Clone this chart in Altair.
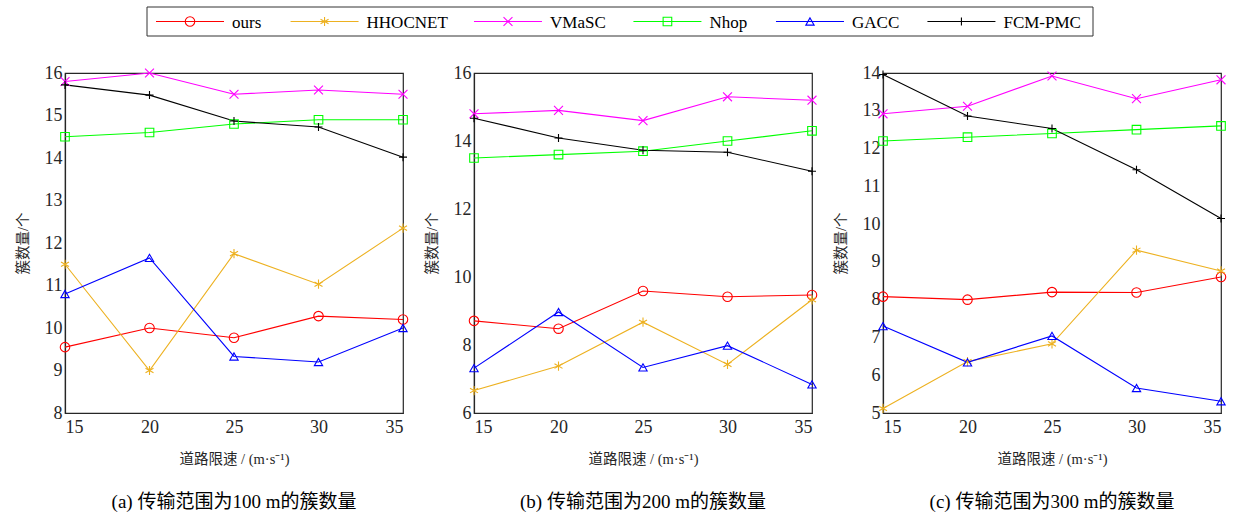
import altair as alt
import pandas as pd

speeds = [15, 20, 25, 30, 35]
methods = ["ours", "HHOCNET", "VMaSC", "Nhop", "GACC", "FCM-PMC"]
colors = ["#FF0000", "#EDB120", "#FF00FF", "#00FF00", "#0000FF", "#000000"]

# marker outlines: circle, asterisk, x, square, triangle, plus
asterisk = "M0,-1L0,1M-0.87,-0.5L0.87,0.5M-0.87,0.5L0.87,-0.5"
xmark = "M-1,-1L1,1M-1,1L1,-1"
plus = "M-1,0L1,0M0,-1L0,1"
shapes = ["circle", asterisk, xmark, "square", "triangle-up", plus]
marker_sizes = [90, 64, 49, 90, 110, 64]

# cluster counts, transmission range 100 m
r100 = {
    "ours":    [9.55, 10.0, 9.77, 10.28, 10.2],
    "HHOCNET": [11.5, 9.0, 11.75, 11.03, 12.35],
    "VMaSC":   [15.8, 16.0, 15.5, 15.6, 15.5],
    "Nhop":    [14.5, 14.6, 14.8, 14.9, 14.9],
    "GACC":    [10.8, 11.65, 9.33, 9.2, 10.0],
    "FCM-PMC": [15.72, 15.48, 14.87, 14.73, 14.02],
}
# transmission range 200 m
r200 = {
    "ours":    [8.71, 8.48, 9.59, 9.42, 9.47],
    "HHOCNET": [6.66, 7.38, 8.67, 7.43, 9.33],
    "VMaSC":   [14.8, 14.9, 14.6, 15.3, 15.2],
    "Nhop":    [13.5, 13.6, 13.7, 14.0, 14.3],
    "GACC":    [7.32, 8.97, 7.34, 7.98, 6.84],
    "FCM-PMC": [14.67, 14.09, 13.73, 13.67, 13.11],
}
# transmission range 300 m
r300 = {
    "ours":    [8.08, 8.0, 8.2, 8.19, 8.6],
    "HHOCNET": [5.12, 6.36, 6.83, 9.31, 8.76],
    "VMaSC":   [12.92, 13.12, 13.92, 13.32, 13.82],
    "Nhop":    [12.2, 12.3, 12.4, 12.5, 12.6],
    "GACC":    [7.3, 6.34, 7.04, 5.66, 5.31],
    "FCM-PMC": [13.96, 12.86, 12.53, 11.44, 10.15],
}

SERIF = "Liberation Serif, Times New Roman, Noto Sans CJK SC"
AXIS_COLOR = "#262626"

color_scale = alt.Scale(domain=methods, range=colors)
shape_scale = alt.Scale(domain=methods, range=shapes)
size_scale = alt.Scale(domain=methods, range=marker_sizes)


def to_long(table):
    rows = []
    for m in methods:
        for s, v in zip(speeds, table[m]):
            rows.append({"method": m, "speed": s, "value": v})
    return pd.DataFrame(rows)


def panel(table, y_min, y_max, y_step, caption):
    base = alt.Chart(to_long(table)).encode(
        x=alt.X(
            "speed:Q",
            scale=alt.Scale(domain=[15, 35], nice=False, zero=False),
            axis=alt.Axis(
                values=speeds, title="道路限速 / (m·s⁻¹)", grid=False,
                tickSize=0, labelPadding=5, titlePadding=16,
                labelFontSize=18, titleFontSize=14.5, titleFontWeight="normal",
                labelFont=SERIF, titleFont=SERIF,
                labelColor=AXIS_COLOR, titleColor=AXIS_COLOR,
                domainColor=AXIS_COLOR, domainWidth=1.2,
            ),
        ),
        y=alt.Y(
            "value:Q",
            scale=alt.Scale(domain=[y_min, y_max], nice=False, zero=False),
            axis=alt.Axis(
                values=list(range(y_min, y_max + 1, y_step)), title="簇数量/个",
                grid=False, tickSize=0, labelPadding=3, titlePadding=14,
                labelFontSize=18, titleFontSize=14.5, titleFontWeight="normal",
                labelFont=SERIF, titleFont=SERIF,
                labelColor=AXIS_COLOR, titleColor=AXIS_COLOR,
                domainColor=AXIS_COLOR, domainWidth=1.2,
            ),
        ),
        color=alt.Color("method:N", scale=color_scale, legend=None),
    )
    lines = base.mark_line(strokeWidth=1.1)
    points = base.mark_point(filled=False, strokeWidth=1.1, opacity=1).encode(
        shape=alt.Shape("method:N", scale=shape_scale, legend=None),
        size=alt.Size("method:N", scale=size_scale, legend=None),
    )
    return alt.layer(lines, points).properties(
        width=338,
        height=340,
        title=alt.TitleParams(
            caption, orient="bottom", fontSize=19, font=SERIF,
            fontWeight="normal", color="#000000", offset=27,
        ),
        view=alt.ViewBackground(stroke=AXIS_COLOR, strokeWidth=1.2),
    )


# legend strip across the top: a framed box holding one entry per method
# (short line with its marker, then the name), packed left to right by an
# estimate of each label's width
STRIP_W = 1100
BOX_L = 82
BOX_W = 946
STRIP_H = 29
LEG_FONT = 16
LINE_LEN = 68
LEAD = 9
TEXT_GAP = 8
ITEM_GAP = 31
char_em = {
    "o": .5, "u": .5, "r": .333, "s": .389, "H": .722, "O": .722, "C": .667,
    "N": .722, "E": .611, "T": .611, "V": .722, "M": .889, "a": .444,
    "S": .556, "h": .5, "p": .5, "G": .722, "A": .722, "F": .556, "P": .556,
    "-": .333,
}


def label_width(s):
    return sum(char_em.get(c, .55) for c in s) * LEG_FONT


starts = []
cursor = BOX_L + LEAD
for m in methods:
    starts.append(cursor)
    cursor += LINE_LEN + TEXT_GAP + label_width(m) + ITEM_GAP

legend_df = pd.DataFrame({"method": methods, "start": starts, "row": 0})
leg_x = alt.Scale(domain=[0, STRIP_W], range=[0, STRIP_W], nice=False, zero=False)
leg_y = alt.Scale(domain=[-1, 1], nice=False, zero=False)
leg_base = alt.Chart(legend_df).transform_calculate(
    x1=f"datum.start + {LINE_LEN}",
    xm=f"datum.start + {LINE_LEN / 2}",
    xt=f"datum.start + {LINE_LEN + TEXT_GAP}",
)
box = alt.Chart(pd.DataFrame({"l": [BOX_L], "r": [BOX_L + BOX_W]})).mark_rect(
    fill="#FFFFFF", stroke="#333333", strokeWidth=1
).encode(
    x=alt.X("l:Q", scale=leg_x, axis=None),
    x2="r:Q",
    y=alt.value(0),
    y2=alt.value(STRIP_H),
)
leg_lines = leg_base.mark_rule(strokeWidth=1.2).encode(
    x=alt.X("start:Q", scale=leg_x, axis=None),
    x2="x1:Q",
    y=alt.Y("row:Q", scale=leg_y, axis=None),
    color=alt.Color("method:N", scale=color_scale, legend=None),
)
leg_points = leg_base.mark_point(filled=False, strokeWidth=1.1, opacity=1).encode(
    x=alt.X("xm:Q", scale=leg_x, axis=None),
    y=alt.Y("row:Q", scale=leg_y, axis=None),
    color=alt.Color("method:N", scale=color_scale, legend=None),
    shape=alt.Shape("method:N", scale=shape_scale, legend=None),
    size=alt.Size("method:N", scale=size_scale, legend=None),
)
leg_text = leg_base.mark_text(
    align="left", baseline="middle", fontSize=LEG_FONT + 1, font=SERIF,
    color="#000000", dy=1,
).encode(
    x=alt.X("xt:Q", scale=leg_x, axis=None),
    y=alt.Y("row:Q", scale=leg_y, axis=None),
    text="method:N",
)
legend = alt.layer(box, leg_lines, leg_points, leg_text).properties(
    width=STRIP_W,
    height=STRIP_H,
    view=alt.ViewBackground(stroke=None),
)

panels = alt.hconcat(
    panel(r100, 8, 16, 1, "(a) 传输范围为100 m的簇数量"),
    panel(r200, 6, 16, 2, "(b) 传输范围为200 m的簇数量"),
    panel(r300, 5, 14, 1, "(c) 传输范围为300 m的簇数量"),
    spacing=12,
).resolve_scale(y="independent")

chart = alt.vconcat(legend, panels, spacing=26).properties(
    padding={"left": 14, "top": 6, "right": 1, "bottom": 0},
    background="#FFFFFF",
)

chart.save("out.html", embed_options={"renderer": "svg", "actions": False})
